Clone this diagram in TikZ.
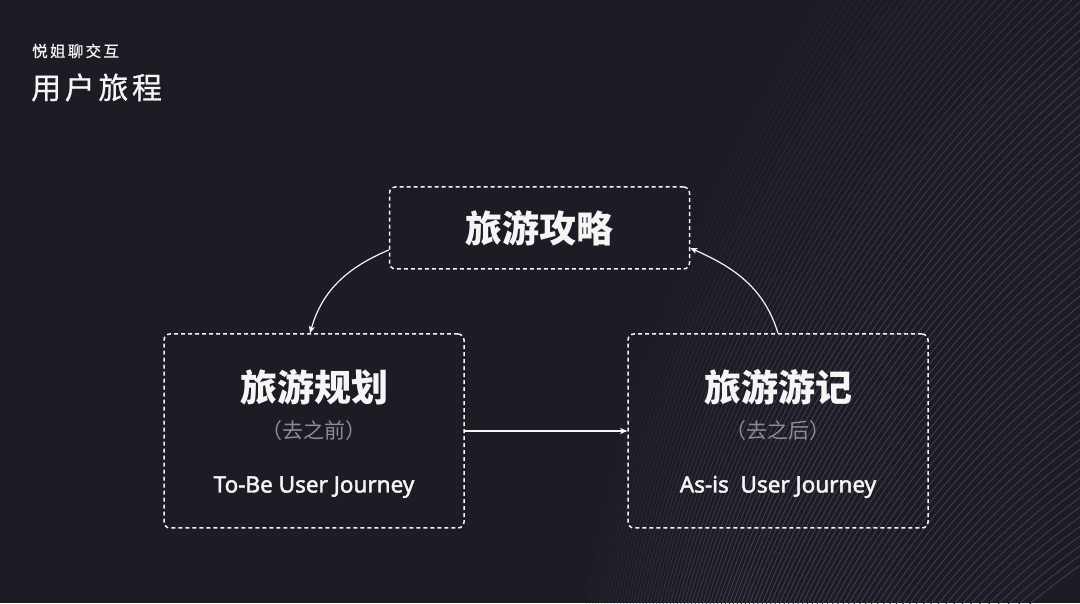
\documentclass[tikz,border=0pt]{standalone}
\usepackage{fontspec}
\setmainfont{Noto Sans CJK SC}
\newfontfamily\enfont{Noto Sans}
\usepackage{tikz}
\usetikzlibrary{positioning,arrows.meta}

\definecolor{bgdark}{HTML}{1C1C25}
\definecolor{ripple}{HTML}{3E3E4C}
\definecolor{inkwhite}{HTML}{F5F5F5}
\definecolor{subgray}{HTML}{8C8C91}

\begin{document}
\begin{tikzpicture}
      [ x=1pt, y=1pt,
        every node/.style={inner sep=0pt, text=inkwhite},
        stage/.style={draw=inkwhite, line width=1.5pt, dash pattern=on 4pt off 3pt,
                      rounded corners=6pt, minimum width=300pt, minimum height=194pt},
        guide/.style={stage, minimum height=82pt},
        stagetitle/.style={font=\fontsize{37}{37}\selectfont\bfseries},
        stagewhen/.style={text=subgray, font=\fontsize{21}{21}\selectfont},
        journey/.style={anchor=base, font=\enfont\fontsize{22.5}{22.5}\selectfont\addfontfeature{FakeBold=2}},
        flow/.style={inkwhite, line width=1.2pt, -{Stealth[length=7pt,width=6pt,inset=1.5pt]}}
      ]
      \useasboundingbox (0,0) rectangle (1080,603);
      \fill[bgdark] (0,0) rectangle (1080,603);

      % background ripples
      \begin{scope}
        \clip (0,0) rectangle (1080,603);
        \foreach \i [evaluate=\i as \fade using {min(1,1.6*(1.25-\i/80))}] in {0,...,92}
          \draw[ripple, line width=0.9pt, opacity=\fade]
            ({1480+8.0625*\i},{-537+2.625*\i}) circle [radius={700+10.45*\i}];
      \end{scope}

      \node[anchor=west, font=\fontsize{15.5}{15.5}\selectfont\addfontfeature{LetterSpace=15,FakeBold=0.8}]
            (brand)   at (32,552)   {悦姐聊交互};
      \node[anchor=west, font=\fontsize{30}{30}\selectfont\addfontfeature{LetterSpace=12,FakeBold=0.8}]
            (heading) at (31,515.5) {用户旅程};

      \node[guide]  (guide)  at (539.5,375) {};
      \node[stage]  (plan)   at (314,172)   {};
      \node[stage]  (diary)  at (778,172)   {};

      \node[stagetitle] (guidetitle) at (guide.center)              {旅游攻略};
      \node[stagetitle] (plantitle)  at ([yshift=43.5pt]plan.center)  {旅游规划};
      \node[stagewhen]  (planwhen)   at (plan.center)               {（去之前）};
      \node[journey]    (planname)   at ([yshift=-61.5pt]plan.center) {To-Be User Journey};
      \node[stagetitle] (diarytitle) at ([yshift=43.5pt]diary.center) {旅游游记};
      \node[stagewhen]  (diarywhen)  at (diary.center)              {（去之后）};
      \node[journey]    (diaryname)  at ([yshift=-61.5pt]diary.center) {As-is\ \ User Journey};

      \path[flow] ([yshift=-22pt]guide.west) edge [out=203, in=74]  ([xshift=-4pt]plan.north)
                  (diary.north)              edge [out=107, in=-24] ([yshift=-20pt]guide.east)
                  (plan.east)                edge                   (diary.west);
\end{tikzpicture}
\end{document}
